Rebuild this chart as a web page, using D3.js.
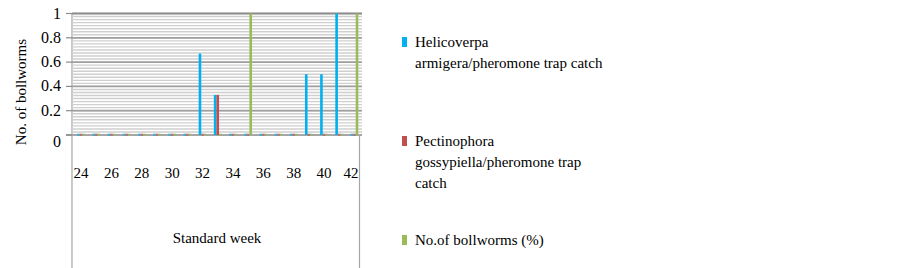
<!DOCTYPE html>
<html>
<head>
<meta charset="utf-8">
<script src="https://cdn.jsdelivr.net/npm/d3@7"></script>
<style>
  body { margin: 0; background: #fff; }
</style>
</head>
<body>
<div id="chart"></div>
<script>
var width = 903,
    height = 268;

// data
var weeks = [24, 25, 26, 27, 28, 29, 30, 31, 32, 33, 34, 35, 36, 37, 38, 39, 40, 41, 42];
var weekLabels = [24, 26, 28, 30, 32, 34, 36, 38, 40, 42];
var helicoverpa = [0, 0, 0, 0, 0, 0, 0, 0, 0.67, 0.33, 0, 0, 0, 0, 0, 0.5, 0.5, 1, 0];
var pectinophora = [0, 0, 0, 0, 0, 0, 0, 0, 0, 0.33, 0, 0, 0, 0, 0, 0, 0, 0, 0];
var bollworms = [0, 0, 0, 0, 0, 0, 0, 0, 0, 0, 0, 1, 0, 0, 0, 0, 0, 0, 1];
var yTicks = [0, 0.2, 0.4, 0.6, 0.8, 1];

var seriesNames = [
    ["Helicoverpa", "armigera/pheromone trap catch"],
    ["Pectinophora", "gossypiella/pheromone trap", "catch"],
    ["No.of bollworms (%)"]
];
var colors = ["#00b0f0", "#c0504d", "#9bbb59"];
var series = [helicoverpa, pectinophora, bollworms];

var serif = "Liberation Serif";
var plot = { left: 73.5, right: 362, top: 13.5, bottom: 135 };

var svg = d3.select('#chart')
    .append('svg')
    .attr('width', width)
    .attr('height', height);

var x = d3.scaleBand()
    .domain(weeks)
    .range([plot.left, plot.right]);

var y = d3.scaleLinear()
    .domain([0, 1])
    .range([plot.bottom, plot.top]);

var barW = 2.6;

// floor / walls below the plot
svg.append('line')
    .attr('x1', 72).attr('x2', 72)
    .attr('y1', plot.top).attr('y2', height)
    .attr('stroke', '#a6a6a6').attr('stroke-width', 1.2);
svg.append('line')
    .attr('x1', 359.5).attr('x2', 359.5)
    .attr('y1', plot.bottom).attr('y2', height)
    .attr('stroke', '#a6a6a6').attr('stroke-width', 1.2);

// minor gridlines
var minor = d3.range(0, 1.0001, 0.025);
svg.append('g')
    .selectAll('line')
    .data(minor)
    .enter()
    .append('line')
    .attr('x1', 72).attr('x2', plot.right)
    .attr('y1', d => y(d)).attr('y2', d => y(d))
    .attr('stroke', '#cfcfcf')
    .attr('stroke-width', 1.4);

// major gridlines
svg.append('g')
    .selectAll('line')
    .data(yTicks.slice(1))
    .enter()
    .append('line')
    .attr('x1', 72).attr('x2', plot.right)
    .attr('y1', d => y(d)).attr('y2', d => y(d))
    .attr('stroke', d => d === 1 ? '#8c8c8c' : '#a0a0a0')
    .attr('stroke-width', 1.8);

// zero line
svg.append('line')
    .attr('x1', 66).attr('x2', plot.right)
    .attr('y1', y(0)).attr('y2', y(0))
    .attr('stroke', '#a6a6a6').attr('stroke-width', 2);

// y axis ticks + labels
var yAxis = svg.append('g');
yAxis.selectAll('line')
    .data(yTicks)
    .enter()
    .append('line')
    .attr('x1', 66).attr('x2', 72)
    .attr('y1', d => y(d)).attr('y2', d => y(d))
    .attr('stroke', '#8c8c8c').attr('stroke-width', 1.2);
yAxis.selectAll('text')
    .data(yTicks)
    .enter()
    .append('text')
    .attr('x', 61)
    .attr('y', d => y(d) + (d === 0 ? 12 : 5))
    .attr('text-anchor', 'end')
    .attr('font-family', serif)
    .attr('font-size', 16)
    .text(d => d);

// bars
series.forEach(function (vals, i) {
    svg.append('g')
        .selectAll('rect')
        .data(vals)
        .enter()
        .append('rect')
        .attr('x', (d, j) => x(weeks[j]) + x.bandwidth() / 2 + (i - 1) * barW - barW / 2)
        .attr('width', barW)
        .attr('y', d => d > 0 ? y(d) : y(0) - 1.5)
        .attr('height', d => d > 0 ? y(0) - y(d) : 2.5)
        .attr('fill', colors[i])
        .attr('opacity', d => d > 0 ? 1 : 0.55);
});

// x labels
svg.append('g')
    .selectAll('text')
    .data(weekLabels)
    .enter()
    .append('text')
    .attr('x', d => Math.min(x(d) + x.bandwidth() / 2, 351))
    .attr('y', 178)
    .attr('text-anchor', 'middle')
    .attr('font-family', serif)
    .attr('font-size', 15)
    .text(d => d);

svg.append('text')
    .attr('x', 217)
    .attr('y', 243)
    .attr('text-anchor', 'middle')
    .attr('font-family', serif)
    .attr('font-size', 15)
    .text('Standard week');

svg.append('text')
    .attr('transform', 'translate(26,92) rotate(-90)')
    .attr('text-anchor', 'middle')
    .attr('font-family', serif)
    .attr('font-size', 15)
    .text('No. of bollworms');

// legend
var legendY = [42, 141, 240];
var legend = svg.append('g');
seriesNames.forEach(function (lines, i) {
    legend.append('rect')
        .attr('x', 402)
        .attr('y', legendY[i] - 5)
        .attr('width', 5)
        .attr('height', 10)
        .attr('fill', colors[i]);
    lines.forEach(function (t, k) {
        legend.append('text')
            .attr('x', 415)
            .attr('y', legendY[i] + 5 + k * 21)
            .attr('font-family', serif)
            .attr('font-size', 15)
            .text(t);
    });
});
</script>
</body>
</html>
